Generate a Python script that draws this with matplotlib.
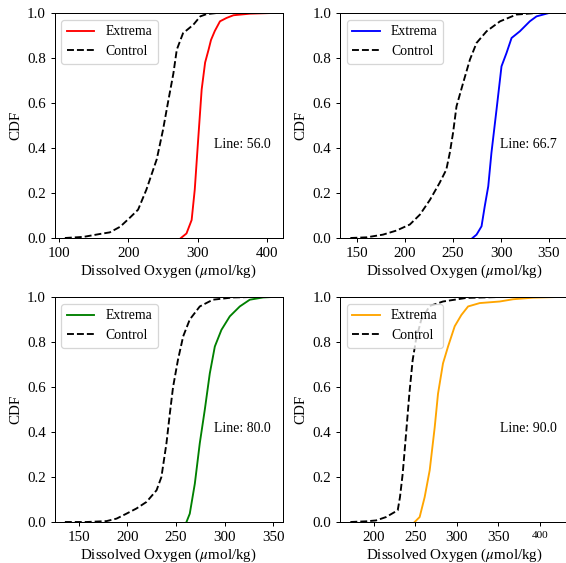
import matplotlib
matplotlib.use("Agg")
import matplotlib.pyplot as plt

plt.rcParams["font.family"] = ["Liberation Serif", "DejaVu Serif"]
plt.rcParams["mathtext.fontset"] = "stix"
plt.rcParams["font.size"] = 12

# CDF levels and the oxygen values
cdf_c56 = [0.0, 0.005, 0.018, 0.025, 0.05, 0.09, 0.126, 0.215, 0.35, 0.48, 0.615, 0.73, 0.837, 0.91, 0.948, 0.985, 0.995, 1.0]
ox_c56 = [108, 135, 159, 173, 188, 202, 214, 226, 241, 250, 258, 265, 270, 279, 294, 304, 313, 328]
cdf_e56 = [0.0, 0.02, 0.08, 0.215, 0.44, 0.66, 0.78, 0.837, 0.88, 0.92, 0.963, 0.978, 0.99, 0.997, 1.0]
ox_e56 = [276, 284, 291.5, 296, 301, 306, 311, 316, 319.5, 325, 332.5, 342, 352, 376, 408]

cdf_c67 = [0.0, 0.003, 0.015, 0.033, 0.06, 0.104, 0.17, 0.245, 0.304, 0.378, 0.467, 0.585, 0.689, 0.793, 0.867, 0.919, 0.963, 0.993, 1.0]
ox_c67 = [143, 160, 177, 191, 205, 215.5, 226, 236, 243, 246.6, 250, 253.6, 260.5, 267.6, 274.5, 285, 299, 316, 337]
cdf_e67 = [0.0, 0.015, 0.052, 0.14, 0.23, 0.378, 0.57, 0.763, 0.822, 0.889, 0.919, 0.963, 0.985, 1.0, 1.0]
ox_e67 = [270.3, 274.5, 279.7, 283, 286.7, 290, 295.3, 300.5, 305.7, 311, 319.7, 330, 337, 350, 359]

cdf_c80 = [0.0, 0.0, 0.004, 0.015, 0.037, 0.06, 0.089, 0.141, 0.2, 0.35, 0.483, 0.6, 0.72, 0.825, 0.9, 0.958, 0.988, 0.998, 1.0]
ox_c80 = [135.6, 158, 178.5, 188.8, 199, 209.3, 219.6, 230, 235, 240.2, 243.7, 247, 252, 257.4, 264.2, 274.5, 288, 308.8, 329]
cdf_e80 = [0.0, 0.037, 0.17, 0.35, 0.5, 0.66, 0.78, 0.854, 0.914, 0.958, 0.988, 0.998, 1.0]
ox_e80 = [260.8, 264.2, 269.4, 274.5, 279.7, 284.8, 290, 296.8, 305.4, 315.7, 326, 339.7, 349]

cdf_c90 = [0.0, 0.003, 0.007, 0.022, 0.052, 0.11, 0.215, 0.39, 0.57, 0.72, 0.81, 0.9, 0.96, 0.98, 0.996, 1.0]
ox_c90 = [172, 191, 203, 215, 229, 231.7, 235, 239, 243, 247, 251, 257.4, 267.5, 283.5, 311.6, 351.8]
cdf_e90 = [0.0, 0.022, 0.11, 0.23, 0.42, 0.57, 0.705, 0.78, 0.87, 0.92, 0.958, 0.973, 0.98, 0.99, 0.997, 1.0]
ox_e90 = [249.4, 255.4, 261.4, 267.5, 273.5, 277.5, 283.5, 289.6, 297.6, 305.6, 313.7, 327.7, 351.8, 367.9, 392, 421.5]

lines = ["56.0", "66.7", "80.0", "90.0"]
colors = ["red", "blue", "green", "orange"]
extrema = [(ox_e56, cdf_e56), (ox_e67, cdf_e67), (ox_e80, cdf_e80), (ox_e90, cdf_e90)]
control = [(ox_c56, cdf_c56), (ox_c67, cdf_c67), (ox_c80, cdf_c80), (ox_c90, cdf_c90)]
xticks = [[100, 200, 300, 400], [150, 200, 250, 300, 350],
          [150, 200, 250, 300, 350], [200, 250, 300, 350, 400]]

W, H = 566, 563
DPI = 90
fig = plt.figure(figsize=(W / DPI, H / DPI), dpi=DPI)
lefts = [54.5, 340, 54.5, 340]
tops = [13, 13, 297, 297]
aw, ah = 228, 225

for i in range(4):
    ax = fig.add_axes([lefts[i] / W, (H - tops[i] - ah) / H, aw / W, ah / H])
    ax.plot(extrema[i][0], extrema[i][1], color=colors[i], label="Extrema")
    ax.plot(control[i][0], control[i][1], color="black", linestyle="--", label="Control")
    ax.set_ylim(0, 1)
    ax.set_xticks(xticks[i])
    ax.set_xlabel(r"Dissolved Oxygen ($\mu$mol/kg)", labelpad=2)
    ax.set_ylabel("CDF")
    ax.text(0.7, 0.4, "Line: " + lines[i], transform=ax.transAxes, fontsize=11)
    ax.legend(loc="upper left", fontsize=11)
    if i % 2 == 1:
        ax.spines["right"].set_visible(False)
    if i == 3:
        ax.get_xticklabels()[-1].set_fontsize(9)

fig.savefig("out.png", dpi=DPI)
